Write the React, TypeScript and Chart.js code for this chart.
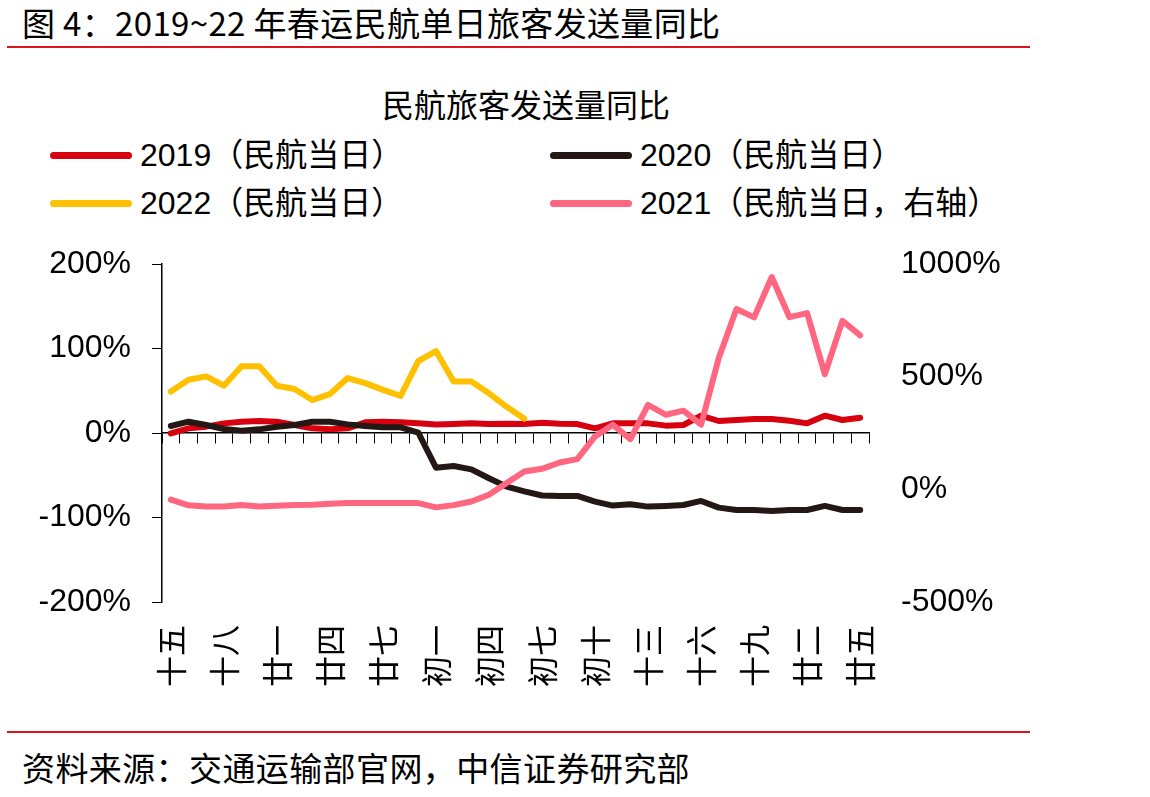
import React, { useEffect, useRef } from "react";
import { Chart, registerables } from "chart.js";

Chart.register(...registerables);

// Lunar calendar days: 腊月十五 … 腊月廿九, 正月初一 … 正月廿五
const categories: string[] = [
  "十五", "十六", "十七", "十八", "十九", "二十", "廿一", "廿二", "廿三", "廿四",
  "廿五", "廿六", "廿七", "廿八", "廿九",
  "初一", "初二", "初三", "初四", "初五", "初六", "初七", "初八", "初九", "初十",
  "十一", "十二", "十三", "十四", "十五", "十六", "十七", "十八", "十九", "二十",
  "廿一", "廿二", "廿三", "廿四", "廿五",
];
const labelStep = 3;

const s2019: (number | null)[] = [
  -0.4, 5.5, 7.5, 11.4, 13.4, 14.2, 13.4, 9.5, 5.5, 4.3,
  5.5, 12.6, 13.4, 12.6, 11.4, 10.2, 10.6, 11.4, 10.6, 11,
  10.6, 12.2, 11, 10.6, 5.5, 11.4, 11.4, 11.4, 8.7, 9.5,
  20.5, 14.2, 15.4, 16.6, 16.6, 14.6, 11.4, 20.5, 15.4, 18.1,
];
const s2020: (number | null)[] = [
  8.3, 13.4, 9.5, 4.7, 2.8, 4.3, 7.5, 9.5, 13.4, 13.4,
  10.2, 8.3, 6.7, 6.7, 0.4, -41, -39, -43, -53.6, -63.5,
  -69, -74, -74.5, -74.5, -81.2, -85.9, -84.3, -87.1, -86.3, -85.2,
  -80.4, -88.3, -91.1, -91.1, -92.3, -91.1, -91.1, -86.3, -91.1, -91.1,
];
const s2022: (number | null)[] = [
  49, 63, 67, 56, 79, 79, 56, 52, 39, 46,
  65, 59, 51, 44, 85, 97, 61, 61, 47, 31,
  17, null, null, null, null, null, null, null, null, null,
  null, null, null, null, null, null, null, null, null, null,
];
const s2021: (number | null)[] = [
  -46, -71, -76, -76, -70, -76, -73, -70, -68, -64,
  -61, -61, -61, -61, -61, -80, -70, -54, -24, 28,
  79, 91, 119, 134, 235, 287, 223, 375, 331, 349,
  287, 583, 800, 763, 942, 764, 782, 511, 748, 683,
];

const leftTicks = { min: -200, max: 200, step: 100 };
const rightTicks = { min: -500, max: 1000, step: 500 };

const legendItems = [
  { label: "2019（民航当日）", color: "#D7000F" },
  { label: "2020（民航当日）", color: "#231815" },
  { label: "2022（民航当日）", color: "#FFC000" },
  { label: "2021（民航当日，右轴）", color: "#FF6680" },
];

const CANVAS_TOP = 230;
const CANVAS_H = 470;
const PLOT_LEFT = 162;
const PLOT_RIGHT = 869;
const PLOT_TOP = 264;
const PLOT_BOTTOM = 602;

const numFont = '"Liberation Sans", Arial, "Noto Sans CJK SC", sans-serif';
const cjkFont = '"Liberation Sans", "Noto Sans CJK SC", sans-serif';

export default function App() {
  const ref = useRef<HTMLCanvasElement | null>(null);

  useEffect(() => {
    if (!ref.current) return;
    const lw = 6;
    const common = {
      borderWidth: lw,
      pointRadius: 0,
      pointHoverRadius: 0,
      tension: 0,
      borderJoinStyle: "round" as const,
      borderCapStyle: "round" as const,
      fill: false,
      spanGaps: false,
    };
    const chart = new Chart(ref.current, {
      type: "line",
      data: {
        labels: categories,
        datasets: [
          { ...common, label: legendItems[3].label, data: s2021, borderColor: legendItems[3].color, yAxisID: "y1" },
          { ...common, label: legendItems[2].label, data: s2022, borderColor: legendItems[2].color, yAxisID: "y" },
          { ...common, label: legendItems[1].label, data: s2020, borderColor: legendItems[1].color, yAxisID: "y" },
          { ...common, label: legendItems[0].label, data: s2019, borderColor: legendItems[0].color, yAxisID: "y" },
        ],
      },
      options: {
        responsive: false,
        animation: false,
        events: [],
        layout: { padding: { top: PLOT_TOP - CANVAS_TOP, left: 0, right: 0, bottom: 0 } },
        plugins: { legend: { display: false }, tooltip: { enabled: false }, title: { display: false } },
        scales: {
          x: {
            type: "category",
            position: "bottom",
            offset: true,
            grid: { display: false, drawTicks: false },
            border: { display: false },
            ticks: {
              autoSkip: false,
              minRotation: 90,
              maxRotation: 90,
              padding: 23,
              color: "#000",
              font: { family: '"Noto Sans CJK SC", sans-serif', size: 31 },
              callback: (_v: any, i: number) => (i % labelStep === 0 ? categories[i] : ""),
            },
            afterFit: (s: any) => {
              s.height = CANVAS_TOP + CANVAS_H - PLOT_BOTTOM;
              s.paddingLeft = 0;
              s.paddingRight = 0;
            },
          },
          x0: {
            type: "category",
            position: { y: 0 },
            offset: true,
            grid: { display: true, drawOnChartArea: false, drawTicks: true, tickLength: 10, offset: true, color: "#000", lineWidth: 1 },
            border: { display: true, color: "#000", width: 1.5 },
            ticks: { display: false },
            afterFit: (s: any) => {
              s.paddingLeft = 0;
              s.paddingRight = 0;
            },
          },
          y: {
            position: "left",
            min: leftTicks.min,
            max: leftTicks.max,
            grid: { display: true, drawOnChartArea: false, drawTicks: true, tickLength: 10, color: "#000", lineWidth: 1 },
            border: { display: true, color: "#000", width: 1.5 },
            ticks: {
              stepSize: leftTicks.step,
              padding: 21,
              color: "#000",
              font: { family: numFont, size: 32 },
              callback: (v: any) => `${v}%`,
            },
            afterFit: (s: any) => {
              s.width = PLOT_LEFT;
              s.paddingTop = 0;
              s.paddingBottom = 0;
            },
          },
          y1: {
            position: "right",
            min: rightTicks.min,
            max: rightTicks.max,
            grid: { display: false, drawTicks: false },
            border: { display: false },
            ticks: {
              stepSize: rightTicks.step,
              padding: 32,
              color: "#000",
              font: { family: numFont, size: 32 },
              callback: (v: any) => `${v}%`,
            },
            afterFit: (s: any) => {
              s.width = 1150 - PLOT_RIGHT;
              s.paddingTop = 0;
              s.paddingBottom = 0;
            },
          },
        },
      },
    } as any);
    return () => chart.destroy();
  }, []);

  const redLine = (top: number) => (
    <div style={{ position: "absolute", left: 7, top, width: 1023, height: 2, background: "#E0141E" }} />
  );

  return (
    <div style={{ position: "absolute", left: 0, top: 0, width: 1150, height: 797, background: "#fff", overflow: "hidden", fontFamily: cjkFont, color: "#000" }}>
      <div style={{ position: "absolute", left: 22, top: 4, fontSize: 33, lineHeight: "36px", letterSpacing: "0.35px", whiteSpace: "nowrap", fontFamily: '"Noto Sans CJK SC", sans-serif' }}>
        图 4：2019~22 年春运民航单日旅客发送量同比
      </div>
      {redLine(46)}
      <div style={{ position: "absolute", left: 0, width: 1052, top: 85, fontSize: 32, lineHeight: "36px", textAlign: "center", whiteSpace: "nowrap", fontFamily: '"Noto Sans CJK SC", sans-serif' }}>
        民航旅客发送量同比
      </div>
      {legendItems.map((it, i) => {
        const col = i % 2;
        const row = Math.floor(i / 2);
        const cx = col === 0 ? 50 : 550;
        const cy = row === 0 ? 155 : 203;
        return (
          <React.Fragment key={i}>
            <div style={{ position: "absolute", left: cx, top: cy - 3.5, width: 82, height: 7, borderRadius: 4, background: it.color }} />
            <div style={{ position: "absolute", left: cx + 90, top: cy - 18, fontSize: 32, lineHeight: "36px", whiteSpace: "nowrap" }}>
              {it.label}
            </div>
          </React.Fragment>
        );
      })}
      <canvas ref={ref} width={1150} height={CANVAS_H} style={{ position: "absolute", left: 0, top: CANVAS_TOP, width: 1150, height: CANVAS_H }} />
      {redLine(731)}
      <div style={{ position: "absolute", left: 22, top: 749, fontSize: 33, lineHeight: "36px", letterSpacing: "0.4px", whiteSpace: "nowrap", fontFamily: '"Noto Sans CJK SC", sans-serif' }}>
        资料来源：交通运输部官网，中信证券研究部
      </div>
    </div>
  );
}
